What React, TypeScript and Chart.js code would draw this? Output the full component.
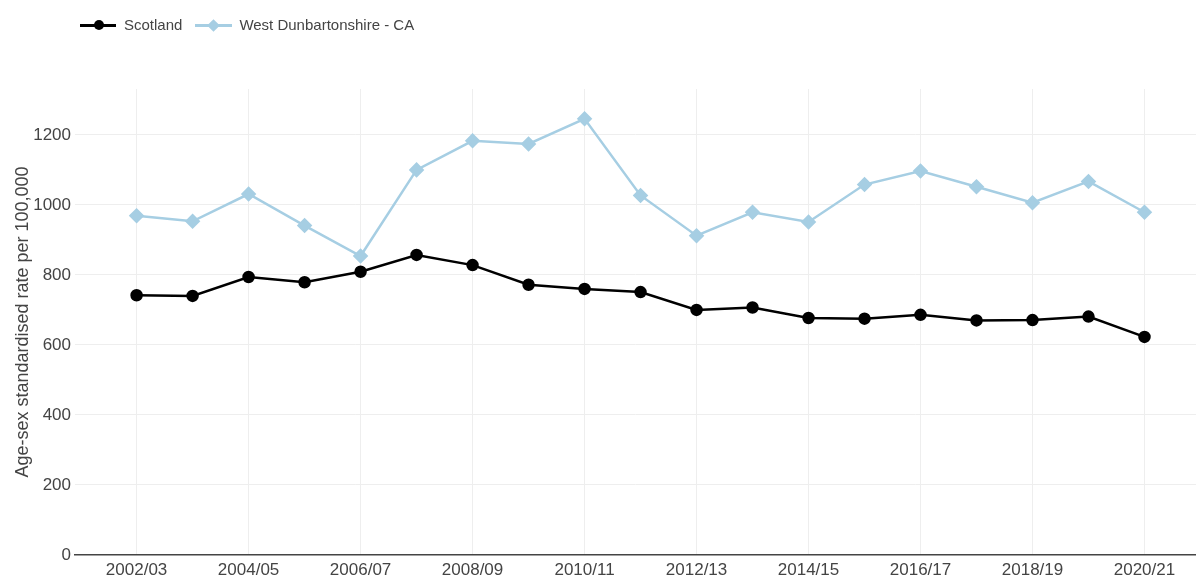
import React, { useEffect, useRef } from "react";
import { Chart, registerables } from "chart.js";

Chart.register(...registerables);

const categories = [
  "2002/03", "2003/04", "2004/05", "2005/06", "2006/07", "2007/08", "2008/09",
  "2009/10", "2010/11", "2011/12", "2012/13", "2013/14", "2014/15", "2015/16",
  "2016/17", "2017/18", "2018/19", "2019/20", "2020/21",
];

const scotland = [742, 740, 794, 779, 809, 857, 828, 772, 760, 751, 700, 707, 677, 675, 686, 670, 671, 681, 623];
const westDunbartonshire = [969, 953, 1031, 941, 854, 1100, 1183, 1174, 1246, 1027, 912, 979, 951, 1058, 1097, 1052, 1006, 1067, 979];

const yTicks = [0, 200, 400, 600, 800, 1000, 1200];
const xTickIndices = [0, 2, 4, 6, 8, 10, 12, 14, 16, 18];

const FONT = "'Liberation Sans', Arial, Helvetica, sans-serif";
const TEXT = "#444444";
const BLUE = "#a6cee3";

export default function App() {
  const ref = useRef<HTMLCanvasElement | null>(null);

  useEffect(() => {
    document.body.style.margin = "0";
    const ctx = ref.current;
    if (!ctx) return;
    const chart = new Chart(ctx, {
      type: "line",
      data: {
        datasets: [
          {
            label: "Scotland",
            data: scotland.map((v, i) => ({ x: i, y: v })),
            borderColor: "#000000",
            backgroundColor: "#000000",
            borderWidth: 2.5,
            pointStyle: "circle",
            pointRadius: 5,
            pointHoverRadius: 5,
            tension: 0,
          },
          {
            label: "West Dunbartonshire - CA",
            data: westDunbartonshire.map((v, i) => ({ x: i, y: v })),
            borderColor: BLUE,
            backgroundColor: BLUE,
            borderWidth: 2.5,
            pointStyle: "rectRot",
            pointRadius: 6,
            pointHoverRadius: 6,
            tension: 0,
          },
        ],
      },
      options: {
        responsive: false,
        maintainAspectRatio: false,
        animation: false,
        layout: { autoPadding: false, padding: { top: 89, right: 0, left: 0, bottom: 0 } },
        plugins: {
          legend: { display: false },
          tooltip: { enabled: false },
        },
        scales: {
          x: {
            type: "linear",
            min: -1.1,
            max: 18.92,
            afterBuildTicks: (scale: any) => {
              scale.ticks = xTickIndices.map((v) => ({ value: v }));
            },
            afterFit: (scale: any) => {
              scale.height = 23;
              scale.paddingLeft = 0;
              scale.paddingRight = 0;
            },
            ticks: {
              autoSkip: false,
              maxRotation: 0,
              padding: 5,
              color: TEXT,
              font: { family: FONT, size: 17 },
              callback: (value: any) => categories[Number(value)] ?? "",
            },
            grid: { color: "#eeeeee", lineWidth: 1, drawTicks: false },
            border: { display: true, color: TEXT, width: 1.5 },
          },
          y: {
            type: "linear",
            min: 0,
            max: 1331,
            afterBuildTicks: (scale: any) => {
              scale.ticks = yTicks.map((v) => ({ value: v }));
            },
            afterFit: (scale: any) => {
              scale.width = 75;
              scale.paddingTop = 0;
              scale.paddingBottom = 0;
            },
            ticks: {
              padding: 4,
              color: TEXT,
              font: { family: FONT, size: 17 },
              callback: (value: any) => String(value),
            },
            grid: {
              color: (c: any) => (c.tick && c.tick.value === 0 ? "rgba(0,0,0,0)" : "#eeeeee"),
              lineWidth: 1,
              drawTicks: false,
            },
            border: { display: false },
            title: {
              display: true,
              text: "Age-sex standardised rate per 100,000",
              color: TEXT,
              font: { family: FONT, size: 18 },
              padding: { top: 12, bottom: 0 },
            },
          },
        },
      },
    } as any);
    return () => chart.destroy();
  }, []);

  const legendText: React.CSSProperties = {
    fontFamily: FONT,
    fontSize: 15,
    color: TEXT,
    lineHeight: "16px",
    whiteSpace: "nowrap",
  };

  return (
    <div style={{ position: "relative", width: 1196, height: 578, background: "#fff", overflow: "hidden" }}>
      <canvas ref={ref} width={1196} height={578} style={{ position: "absolute", left: 0, top: 0 }} />
      <div style={{ position: "absolute", left: 80, top: 17, display: "flex", alignItems: "center" }}>
        <div style={{ position: "relative", width: 36, height: 16 }}>
          <div style={{ position: "absolute", left: 0, top: 7, width: 36, height: 2.5, background: "#000" }} />
          <div style={{ position: "absolute", left: 14, top: 3, width: 10, height: 10, borderRadius: 5, background: "#000" }} />
        </div>
        <span style={{ ...legendText, marginLeft: 8 }}>Scotland</span>
        <div style={{ position: "relative", width: 37, height: 16, marginLeft: 13 }}>
          <div style={{ position: "absolute", left: 0, top: 7, width: 37, height: 2.5, background: BLUE }} />
          <div style={{ position: "absolute", left: 14, top: 3.5, width: 9, height: 9, transform: "rotate(45deg)", background: BLUE }} />
        </div>
        <span style={{ ...legendText, marginLeft: 7 }}>West Dunbartonshire - CA</span>
      </div>
    </div>
  );
}
